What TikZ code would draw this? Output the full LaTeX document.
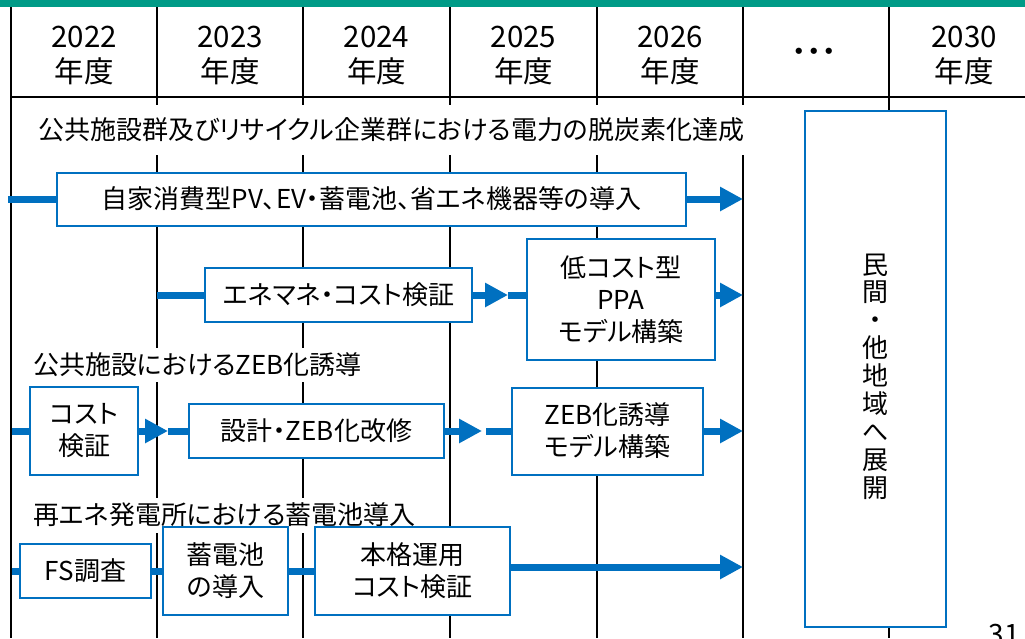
\documentclass[tikz,border=0pt]{standalone}
\usepackage{fontspec}
\setmainfont{Noto Sans CJK JP}[RawFeature=+palt]
\usepackage{tikz}
\usetikzlibrary{arrows.meta}
\definecolor{teal}{RGB}{0,155,135}
\definecolor{blue}{RGB}{0,112,192}
\def\Bfont{\fontsize{26}{32}\selectfont}
\def\Yfont{\fontsize{29.5}{35}\selectfont}

\begin{document}
\begin{tikzpicture}[x=1pt,y=-1pt,% one unit per pixel, y going down
      every node/.style={
        align=center,     % use this so that the "\\" for line break works
        inner sep=0pt,
        font=\Bfont
      },
      task/.style={rectangle,line width=2pt,draw=blue,fill=white},
      phase/.style={rectangle,fill=white,anchor=west,inner xsep=8pt},
      every edge/.style={draw=blue,line width=7pt},
      flow/.style={-{Triangle[length=23pt,width=23pt]}}
    ]
    \useasboundingbox (0,0) rectangle (1025,638);
    % header and grid
    \fill[teal] (0,0) rectangle (1025,7);
    \foreach \x in {11,157,303,450,597,743,889}
      \draw[line width=1.3pt] (\x,7) -- (\x,638);
    \draw[line width=1.3pt] (11,97) -- (1025,97);
    \foreach \yr/\x [count=\i] in {2022/84,2023/230,2024/376.5,2025/523.5,2026/670,2030/964}
      \node[font=\Yfont](Y\i) at (\x,55) {\yr\\年度};
    \node[font=\Yfont](Y7) at (814,55) {・・・};
    \coordinate (E) at (743,0);
    % first group
    \node[phase,minimum height=50pt](S1) at (30,130) {公共施設群及びリサイクル企業群における電力の脱炭素化達成};
    \node[task,minimum width=629pt,minimum height=53pt](R1) at (371.5,199) {自家消費型PV、EV・蓄電池、省エネ機器等の導入};
    \node[task,minimum width=267pt,minimum height=54pt](R2) at (338.5,295) {エネマネ・コスト検証};
    \node[task,minimum width=188pt,minimum height=121pt](R3) at (621,299.5) {低コスト型\\PPA\\モデル構築};
    % second group
    \node[phase,minimum height=34pt](S2) at (25,365) {公共施設におけるZEB化誘導};
    \node[task,minimum width=108pt,minimum height=88pt](R4) at (84,431) {コスト\\検証};
    \node[task,minimum width=255pt,minimum height=54pt](R5) at (316.5,431) {設計・ZEB化改修};
    \node[task,minimum width=191pt,minimum height=87pt](R6) at (607.5,431) {ZEB化誘導\\モデル構築};
    % third group
    \node[phase,minimum height=35pt](S3) at (25,515) {再エネ発電所における蓄電池導入};
    \node[task,minimum width=131pt,minimum height=54pt](R7) at (85.5,571) {FS調査};
    \node[task,minimum width=125pt,minimum height=88pt](R8) at (225.5,571) {蓄電池\\の導入};
    \node[task,minimum width=195pt,minimum height=88pt](R9) at (412.5,571) {本格運用\\コスト検証};
    % roll out
    \node[task,minimum width=141pt,minimum height=516pt,
      label={[yshift=-7.5pt,font=\fontsize{26}{27.9}\selectfont]center:民\\間\\・\\他\\地\\域\\へ\\展\\開}](R10) at (875.5,369) {};
    \node[font=\fontsize{28}{30}\selectfont,anchor=base](P) at (1004,644) {31};
    % free ends of the bars
    \coordinate (L1) at (8,199);
    \coordinate (L2) at (157,295);
    \coordinate (M2) at (508,295);
    \coordinate (L3) at (12,431);
    \coordinate (M3) at (168,431);
    \coordinate (N3) at (482,431);
    \coordinate (O3) at (486,431);
    \coordinate (L4) at (12,571);
    \coordinate (A4) at (743,567);
    \path
    (L1) edge (R1)
    (R1) edge [flow] (E |- R1)
    (L2) edge (R2)
    (R2) edge [flow] (M2)
    (M2) edge (R3.west |- M2)
    (R3.east |- M2) edge [flow] (E |- M2)
    (L3) edge (R4)
    (R4) edge [flow] (M3)
    (M3) edge (R5)
    (R5) edge [flow] (N3)
    (O3) edge (R6)
    (R6) edge [flow] (E |- R6)
    (L4) edge (R7)
    (R7) edge (R8)
    (R8) edge (R9)
    (R9.east |- A4) edge [flow] (A4)
    ;
  \end{tikzpicture}
\end{document}
